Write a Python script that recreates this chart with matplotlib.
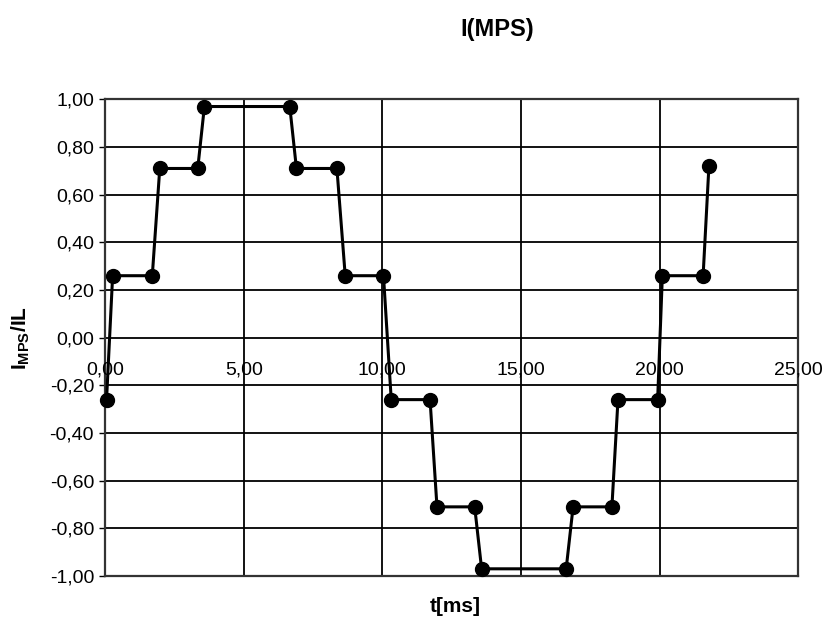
import matplotlib
matplotlib.use('Agg')
import matplotlib.pyplot as plt

plt.rcParams['font.family'] = ['Liberation Sans', 'DejaVu Sans']
plt.rcParams['mathtext.fontset'] = 'custom'
plt.rcParams['mathtext.rm'] = 'Liberation Sans'
plt.rcParams['mathtext.bf'] = 'Liberation Sans:bold'

# Data
t_ms = [0.05, 0.27, 1.70, 1.97, 3.34, 3.58, 6.66, 6.90, 8.36, 8.66, 10.04, 10.32,
        11.72, 11.97, 13.33, 13.58, 16.63, 16.88, 18.28, 18.50, 19.93, 20.10, 21.57, 21.78]
i_ratio = [-0.26, 0.26, 0.26, 0.71, 0.71, 0.97, 0.97, 0.71, 0.71, 0.26, 0.26, -0.26,
           -0.26, -0.71, -0.71, -0.97, -0.97, -0.71, -0.71, -0.26, -0.26, 0.26, 0.26, 0.72]
x_ticks = [0, 5, 10, 15, 20, 25]
y_ticks = [-1.0, -0.8, -0.6, -0.4, -0.2, 0.0, 0.2, 0.4, 0.6, 0.8, 1.0]


def comma(v):
    return f"{v:.2f}".replace('.', ',')


fig = plt.figure(figsize=(8.28, 6.23), dpi=100)
ax = fig.add_axes([0.127, 0.0755, 0.837, 0.765])

ax.set_xlim(0, 25)
ax.set_ylim(-1, 1)

ax.set_yticks(y_ticks)
ax.set_yticklabels([comma(v) for v in y_ticks], fontsize=14)
ax.tick_params(axis='y', length=4, width=1, pad=4, direction='out')

ax.set_xticks(x_ticks)
ax.tick_params(axis='x', length=0, labelbottom=False)
ax.grid(True, color='black', linewidth=1.3)

# x tick labels sit just under the zero line, like the spreadsheet chart
for v in x_ticks:
    ax.annotate(comma(v), xy=(v, 0), xycoords='data', xytext=(0, -17),
                textcoords='offset points', ha='center', va='top', fontsize=14)

for s in ax.spines.values():
    s.set_color('#333333')
    s.set_linewidth(1.6)

ax.plot(t_ms, i_ratio, color='black', linewidth=2.2, marker='o',
        markersize=10, markerfacecolor='black', zorder=5, clip_on=False)

fig.text(0.6, 0.952, 'I(MPS)', ha='center', va='center', fontsize=17, fontweight='bold')
fig.text(0.55, 0.026, 't[ms]', ha='center', va='center', fontsize=15, fontweight='bold')
fig.text(0.025, 0.457, r'$\mathbf{I_{MPS}}$$\mathbf{/IL}$', ha='center', va='center',
         rotation=90, fontsize=15)

fig.savefig('out.png', dpi=100)
